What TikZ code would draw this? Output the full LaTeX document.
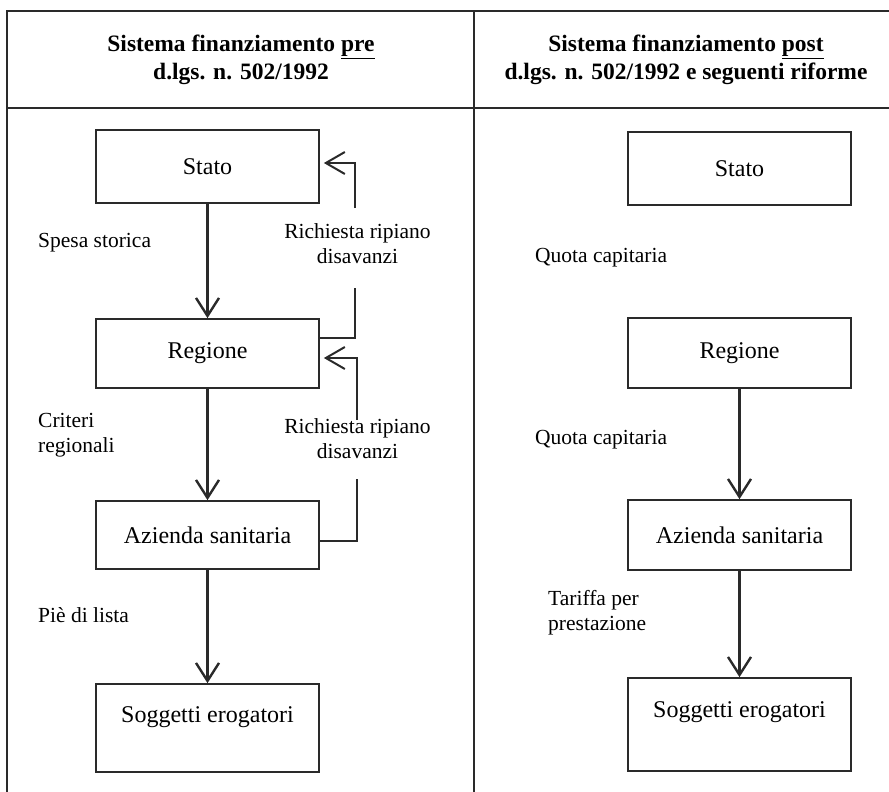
\documentclass[tikz,border=0pt]{standalone}
\usepackage{fontspec}
\setmainfont{Liberation Serif}
\usetikzlibrary{arrows.meta,calc}
\definecolor{ln}{HTML}{2A2A2A}
\tikzset{
  x=1pt, y=-1pt,
  frame/.style={draw=ln, line width=2pt},
  boxn/.style={draw=ln, line width=1.7pt, minimum width=223pt, inner sep=0pt, font=\fontsize{24}{28}\selectfont},
  lbl/.style={inner sep=0pt, font=\fontsize{21.5}{25}\selectfont},
  hdr/.style={inner sep=0pt, align=center, font=\fontsize{23.5}{27.5}\selectfont\bfseries},
  down/.style={draw=ln, line width=2.4pt, -{Straight Barb[length=18pt,width=23pt,line width=2.4pt]}},
  fb/.style={draw=ln, line width=1.4pt},
  fbarrow/.style={draw=ln, line width=1.4pt, -{Straight Barb[length=19pt,width=22pt,line width=2pt]}, shorten >=4pt},
}
\begin{document}
\begin{tikzpicture}
\useasboundingbox (0,0) rectangle (889,792);
% table frame
\draw[frame] (7,792) -- (7,11) -- (889,11);
\draw[frame] (7,108) -- (889,108);
\draw[frame] (474,11) -- (474,792);
% headers
\node[hdr] (hL) at (241,60) {Sistema finanziamento \underline{pre}\\d.lgs. n. 502/1992};
\node[hdr] (hR) at (686,60) {Sistema finanziamento \underline{post}\\d.lgs. n. 502/1992 e seguenti riforme};
% left column boxes
\node[boxn, minimum height=73pt] (stL) at (207.5,166.5) {Stato};
\node[boxn, minimum height=69pt] (regL) at (207.5,353.5) {Regione};
\node[boxn, minimum height=68pt] (azL) at (207.5,535) {Azienda sanitaria};
\node[boxn, minimum height=88pt] (sogL) at (207.5,728) {};
\node[lbl, font=\fontsize{24}{28}\selectfont] (sogLt) at (207.5,717) {Soggetti erogatori};
% left arrows
\draw[down] (stL) -- (regL);
\draw[down] (regL) -- (azL);
\draw[down] (azL) -- (sogL);
% left labels
\node[lbl, anchor=west] (l1) at (38,243) {Spesa storica};
\node[lbl, anchor=west, align=left] (l2) at (38,435) {Criteri\\regionali};
\node[lbl, anchor=west] (l3) at (38,615) {Piè di lista};
% feedback labels
\node[lbl, align=center] (r1) at (357.5,244) {Richiesta ripiano\\disavanzi};
\node[lbl, align=center] (r2) at (357.5,439) {Richiesta ripiano\\disavanzi};
% feedback lines
\draw[fb] ([yshift=15.5pt]regL.east) -| ($(r1.center)+(-2.5,44)$);
\draw[fbarrow] ($(r1.center)+(-2.5,-36)$) |- ([yshift=3.5pt]stL.east);
\draw[fb] ([yshift=-6pt]azL.east) -| ($(r2.center)+(-0.5,40)$);
\draw[fbarrow] ($(r2.center)+(-0.5,-19)$) |- ([yshift=-4.5pt]regL.east);
% right column boxes
\node[boxn, minimum height=73pt] (stR) at (739.5,168.5) {Stato};
\node[boxn, minimum height=70pt] (regR) at (739.5,353) {Regione};
\node[boxn, minimum height=70pt] (azR) at (739.5,535) {Azienda sanitaria};
\node[boxn, minimum height=93pt] (sogR) at (739.5,724.5) {};
\node[lbl, font=\fontsize{24}{28}\selectfont] (sogRt) at (739.5,712) {Soggetti erogatori};
% right arrows
\draw[down] (regR) -- (azR);
\draw[down] (azR) -- (sogR);
% right labels
\node[lbl, anchor=west] (q1) at (535,258) {Quota capitaria};
\node[lbl, anchor=west] (q2) at (535,440) {Quota capitaria};
\node[lbl, anchor=west, align=left] (t1) at (548,613) {Tariffa per\\prestazione};
\end{tikzpicture}
\end{document}
